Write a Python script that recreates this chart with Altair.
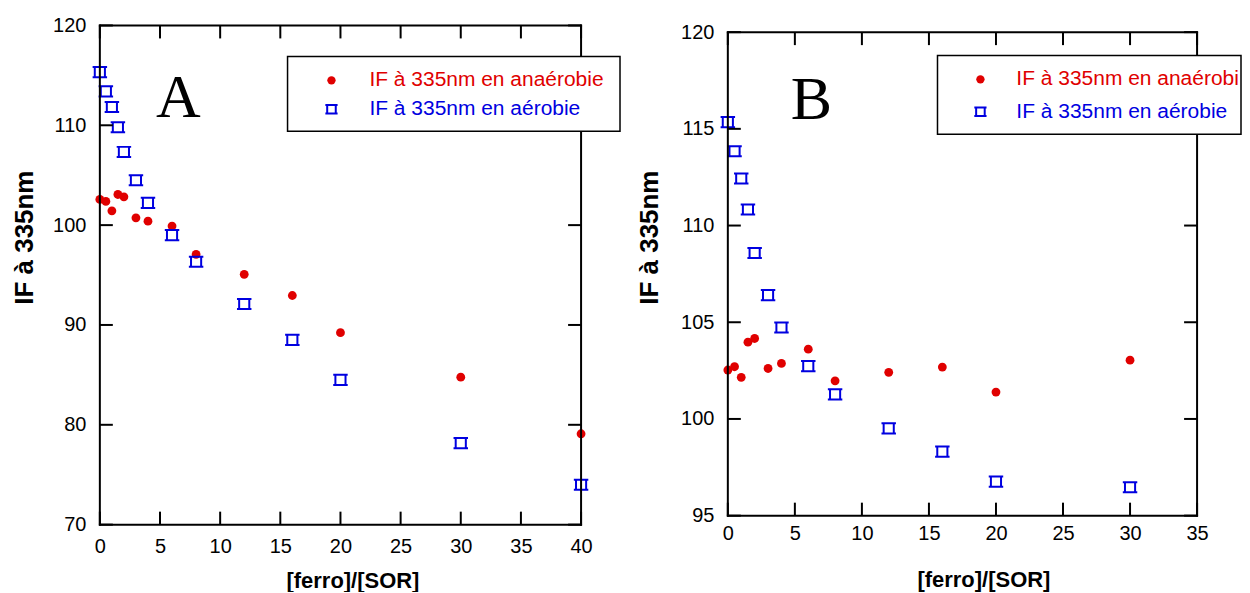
import altair as alt
import pandas as pd

# ---------------- data ----------------
A_x = [0, 0.5, 1, 1.5, 2, 3, 4, 6, 8, 12, 16, 20, 30, 40]
A_anaerobie = [102.57, 102.37, 101.43, 103.07, 102.83, 100.73, 100.4, 99.9, 97.07, 95.07, 92.95, 89.23, 84.77, 79.1]
A_aerobie = [115.33, 113.4, 111.83, 109.8, 107.33, 104.5, 102.23, 99.0, 96.33, 92.1, 88.5, 84.5, 78.17, 74.0]

B_x = [0, 0.5, 1, 1.5, 2, 3, 4, 6, 8, 12, 16, 20, 30]
B_anaerobie = [102.53, 102.7, 102.15, 103.97, 104.16, 102.61, 102.87, 103.61, 101.97, 102.41, 102.68, 101.39, 103.04]
B_aerobie = [115.35, 113.84, 112.43, 110.83, 108.58, 106.4, 104.73, 102.73, 101.27, 99.51, 98.31, 96.76, 96.47]

A_xticks = [0, 5, 10, 15, 20, 25, 30, 35, 40]
A_yticks = [70, 80, 90, 100, 110, 120]
B_xticks = [0, 5, 10, 15, 20, 25, 30, 35]
B_yticks = [95, 100, 105, 110, 115, 120]

legend_labels = ["IF à 335nm en anaérobie", "IF à 335nm en aérobie"]
x_title = "[ferro]/[SOR]"
y_title = "IF à 335nm"

RED = "#e00000"
BLUE = "#0000e0"
SQUARE = "M-1,-0.7L1,-0.7M-1,0.7L1,0.7M-0.7,-0.7L-0.7,0.7M0.7,-0.7L0.7,0.7"
SANS = "Liberation Sans"
SERIF = "Liberation Serif"


def panel(xs, red, blue, xticks, yticks, xdom, ydom, frame_x, frame_y, w, h,
          letter, letter_xy, box, sym_x, txt_x, rows_y, txt_limit,
          xtitle_xy, ytitle_xy, xlab_pad):
    xscale = alt.Scale(domain=xdom, nice=False, zero=False)
    yscale = alt.Scale(domain=ydom, nice=False, zero=False)

    xaxis = alt.Axis(values=xticks, title=x_title, ticks=False, tickSize=0, domain=False, grid=False,
                     labelFont=SANS, labelFontSize=20, labelColor="black", labelPadding=xlab_pad,
                     labelFlush=False, labelOverlap=False, format="d",
                     titleFont=SANS, titleFontSize=22, titleFontWeight="bold", titleColor="black",
                     titleX=xtitle_xy[0], titleY=xtitle_xy[1], titleAlign="center", titleBaseline="top")
    yaxis = alt.Axis(values=yticks, title=y_title, ticks=False, tickSize=0, domain=False, grid=False,
                     labelFont=SANS, labelFontSize=20, labelColor="black", labelPadding=14,
                     labelFlush=False, labelOverlap=False, format="d",
                     titleFont=SANS, titleFontSize=26, titleFontWeight="bold", titleColor="black",
                     titleAngle=270, titleAlign="center", titleBaseline="bottom",
                     titleX=ytitle_xy[0], titleY=ytitle_xy[1])

    X = lambda f: alt.X(f, scale=xscale, axis=xaxis)
    Y = lambda f: alt.Y(f, scale=yscale, axis=yaxis)

    df_red = pd.DataFrame({"x": xs, "y": red})
    df_blue = pd.DataFrame({"x": xs, "y": blue})

    frame = pd.DataFrame({
        "x": [frame_x[0], frame_x[0], frame_x[0], frame_x[1]],
        "x2": [frame_x[1], frame_x[1], frame_x[0], frame_x[1]],
        "y": [frame_y[0], frame_y[1], frame_y[0], frame_y[0]],
        "y2": [frame_y[0], frame_y[1], frame_y[1], frame_y[1]],
    })

    pts_red = alt.Chart(df_red).mark_circle(size=78, color=RED, opacity=1).encode(
        x=X("x:Q"), y=Y("y:Q"))
    pts_blue = alt.Chart(df_blue).mark_point(shape=SQUARE, size=210, color=BLUE, strokeWidth=2,
                                             filled=False, opacity=1).encode(
        x=X("x:Q"), y=Y("y:Q"))

    frame_layer = alt.Chart(frame).mark_rule(color="black", strokeWidth=2, strokeCap="square").encode(
        x=X("x:Q"), x2="x2:Q", y=Y("y:Q"), y2="y2:Q")

    top_px = (ydom[1] - frame_y[1]) / (ydom[1] - ydom[0]) * h
    tx = pd.DataFrame({"t": xticks})
    ty = pd.DataFrame({"t": yticks})
    tick_style = dict(color="black", strokeWidth=2)
    ticks_bottom = alt.Chart(tx).mark_rule(**tick_style).encode(
        x=X("t:Q"), y=alt.value(h), y2=alt.value(h - 13))
    ticks_top = alt.Chart(tx).mark_rule(**tick_style).encode(
        x=X("t:Q"), y=alt.value(top_px), y2=alt.value(top_px + 13))
    ticks_left = alt.Chart(ty).mark_rule(**tick_style).encode(
        y=Y("t:Q"), x=alt.value(0), x2=alt.value(13))
    ticks_right = alt.Chart(ty).mark_rule(**tick_style).encode(
        y=Y("t:Q"), x=alt.value(w), x2=alt.value(w - 13))

    one = pd.DataFrame({"k": [0]})
    leg_box = alt.Chart(one).mark_rect(fill="white", stroke="black", strokeWidth=1.5).encode(
        x=alt.value(box[0]), x2=alt.value(box[1]), y=alt.value(box[2]), y2=alt.value(box[3]))
    leg_sym_red = alt.Chart(one).mark_circle(size=70, color=RED, opacity=1).encode(
        x=alt.value(sym_x), y=alt.value(rows_y[0]))
    leg_sym_blue = alt.Chart(one).mark_point(shape=SQUARE, size=150, color=BLUE, strokeWidth=2,
                                             filled=False, opacity=1).encode(
        x=alt.value(sym_x), y=alt.value(rows_y[1]))
    leg_txt_red = alt.Chart(pd.DataFrame({"label": [legend_labels[0]]})).mark_text(
        align="left", baseline="middle", font=SANS, fontSize=21, color=RED,
        limit=txt_limit, ellipsis="\u200b").encode(
        x=alt.value(txt_x), y=alt.value(rows_y[0]), text="label:N")
    leg_txt_blue = alt.Chart(pd.DataFrame({"label": [legend_labels[1]]})).mark_text(
        align="left", baseline="middle", font=SANS, fontSize=21, color=BLUE,
        limit=txt_limit, ellipsis="\u200b").encode(
        x=alt.value(txt_x), y=alt.value(rows_y[1]), text="label:N")
    big = alt.Chart(pd.DataFrame({"label": [letter]})).mark_text(
        align="center", baseline="alphabetic", font=SERIF, fontSize=62, color="black").encode(
        x=alt.value(letter_xy[0]), y=alt.value(letter_xy[1]), text="label:N")

    return alt.layer(
        pts_red, pts_blue, frame_layer, ticks_bottom, ticks_top, ticks_left, ticks_right,
        leg_box, leg_sym_red, leg_sym_blue, leg_txt_red, leg_txt_blue, big,
    ).properties(width=w, height=h)


chartA = panel(A_x, A_anaerobie, A_aerobie, A_xticks, A_yticks,
               xdom=[0, 40], ydom=[70, 120], frame_x=[0, 40], frame_y=[70, 120], w=482, h=500,
               letter="A", letter_xy=(78.5, 92), box=(188, 521, 31, 106), sym_x=232, txt_x=270,
               rows_y=(55, 84), txt_limit=400, xtitle_xy=(253, 46), ytitle_xy=(-62, 212), xlab_pad=12)

chartB = panel(B_x, B_anaerobie, B_aerobie, B_xticks, B_yticks,
               xdom=[0, 35], ydom=[95, 120.346], frame_x=[0, 35], frame_y=[95, 120], w=470, h=491,
               letter="B", letter_xy=(83.7, 94), box=(210, 514, 30, 109), sym_x=253, txt_x=289,
               rows_y=(54, 86.5), txt_limit=226, xtitle_xy=(256, 54), ytitle_xy=(-65, 212), xlab_pad=8)

chart = alt.hconcat(chartA, chartB, spacing=16).properties(
    padding={"left": 4, "top": 7, "right": 0, "bottom": 0}
).configure_view(stroke=None)

chart.save("out.html", embed_options={"renderer": "svg", "actions": False})
